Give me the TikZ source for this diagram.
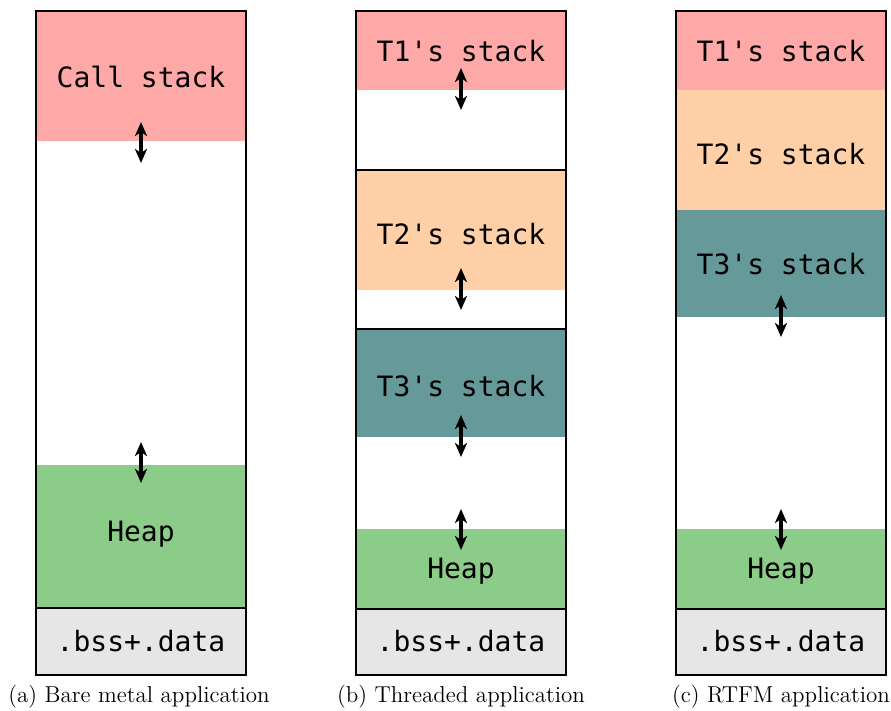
\documentclass[tikz,border=0pt]{standalone}
\usepackage{fontspec}
\newfontfamily\memfont{DejaVu Sans Mono}
\usetikzlibrary{arrows.meta}

\definecolor{stackred}{RGB}{255,168,168}
\definecolor{stackorange}{RGB}{255,208,168}
\definecolor{stackteal}{RGB}{102,153,153}
\definecolor{heapgreen}{RGB}{138,204,136}
\definecolor{datagray}{RGB}{230,230,230}

\tikzset{
  label text/.style={font=\fontsize{14}{16}\selectfont\memfont, inner sep=0pt},
  caption text/.style={font=\fontsize{11.5}{13}\selectfont, inner sep=0pt},
  growth tip/.tip={Stealth[length=7pt,width=6pt,inset=2pt]},
  growth/.style={line width=1.7pt, growth tip-growth tip},
  frame/.style={line width=1pt},
}

% #1 name, #2 left x, #3 top y, #4 bottom y, #5 colour, #6 text, #7 text y
\newcommand\memblock[7]{%
  \fill[#5] (#2,#3) rectangle (#2+210,#4);
  \node[label text] (#1) at (#2+105,#7) {#6};
}
% #1 name, #2 x, #3 top y, #4 bottom y
\newcommand\growarrow[4]{%
  \coordinate (#1-s) at (#2,#3);
  \coordinate (#1-e) at (#2,#4);
  \draw[growth] (#1-s) -- (#1-e);
}

\begin{document}
\begin{tikzpicture}[x=0.5pt,y=-0.5pt]
\useasboundingbox (0,0) rectangle (891,711);

% (a) bare metal
\memblock{a-stack}{36}{11}{141}{stackred}{Call stack}{77}
\memblock{a-heap}{36}{465}{608}{heapgreen}{Heap}{534}
\memblock{a-data}{36}{608}{675}{datagray}{.bss+.data}{641}
\draw[frame] (36,608) -- (246,608);
\draw[frame] (36,11) rectangle (246,675);
\growarrow{a-ar1}{141}{122}{163}
\growarrow{a-ar2}{141}{442}{483}
\node[caption text] (cap-a) at (139,697) {(a) Bare metal application};

% (b) threaded
\memblock{b-t1}{356}{11}{90}{stackred}{T1's stack}{51}
\memblock{b-t2}{356}{170}{290}{stackorange}{T2's stack}{234}
\memblock{b-t3}{356}{329}{437}{stackteal}{T3's stack}{386}
\memblock{b-heap}{356}{529}{609}{heapgreen}{Heap}{571}
\memblock{b-data}{356}{609}{675}{datagray}{.bss+.data}{641}
\draw[frame] (356,170) -- (566,170);
\draw[frame] (356,329) -- (566,329);
\draw[frame] (356,609) -- (566,609);
\draw[frame] (356,11) rectangle (566,675);
\growarrow{b-ar1}{461}{68}{110}
\growarrow{b-ar2}{461}{268}{310}
\growarrow{b-ar3}{461}{415}{457}
\growarrow{b-ar4}{461}{509}{550}
\node[caption text] (cap-b) at (461,697) {(b) Threaded application};

% (c) RTFM
\memblock{c-t1}{676}{11}{90}{stackred}{T1's stack}{51}
\memblock{c-t2}{676}{90}{210}{stackorange}{T2's stack}{154}
\memblock{c-t3}{676}{210}{317}{stackteal}{T3's stack}{264}
\memblock{c-heap}{676}{529}{609}{heapgreen}{Heap}{571}
\memblock{c-data}{676}{609}{675}{datagray}{.bss+.data}{641}
\draw[frame] (676,609) -- (886,609);
\draw[frame] (676,11) rectangle (886,675);
\growarrow{c-ar1}{781}{295}{337}
\growarrow{c-ar2}{781}{509}{550}
\node[caption text] (cap-c) at (781,697) {(c) RTFM application};
\end{tikzpicture}
\end{document}
